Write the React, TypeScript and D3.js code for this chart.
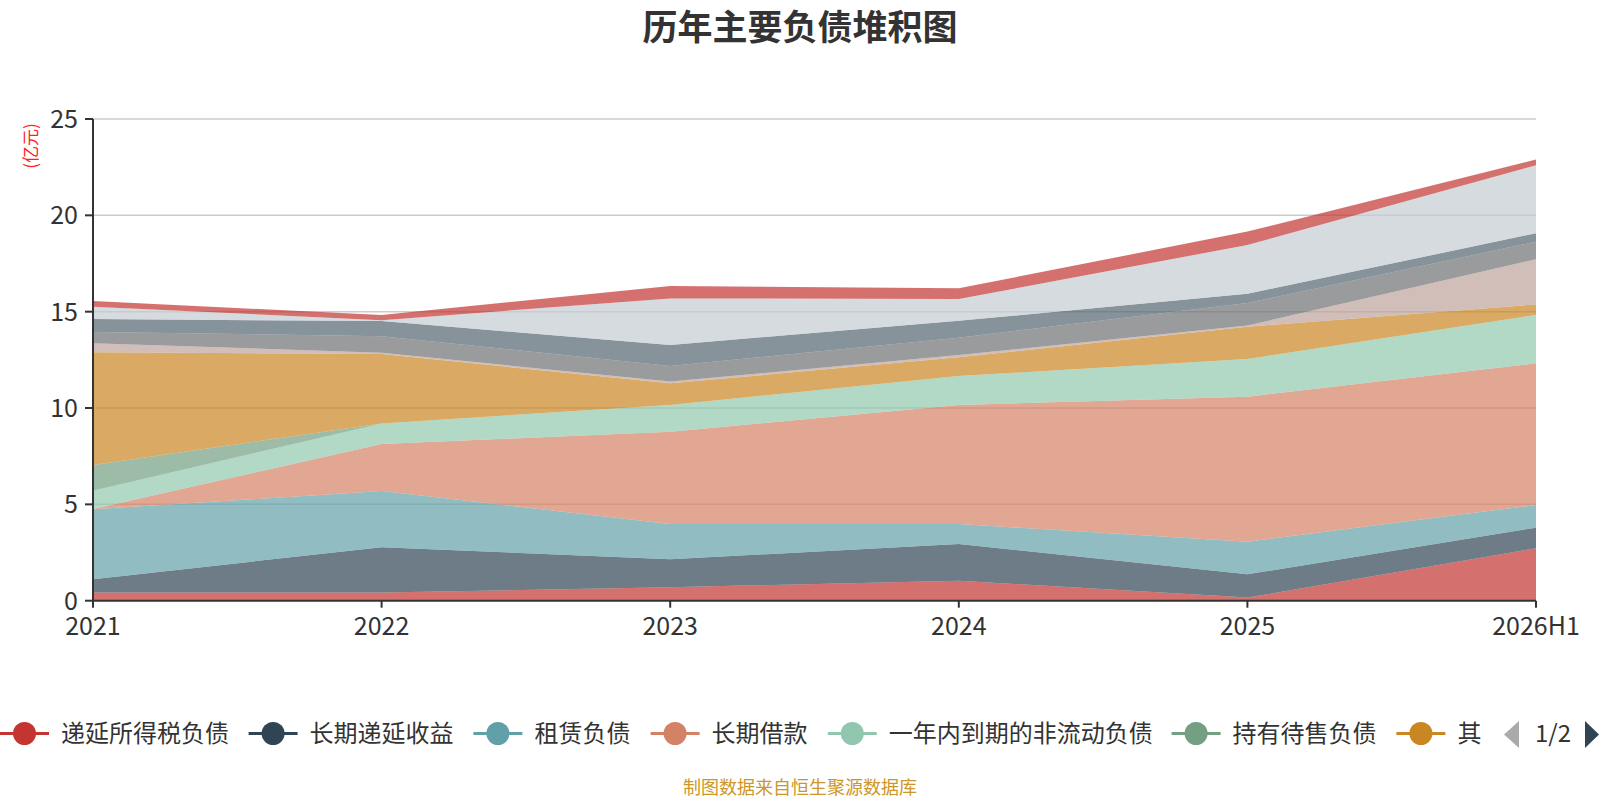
import * as d3 from 'd3'

const years = ['2021', '2022', '2023', '2024', '2025', '2026H1']

// stacking order, bottom first (values in 亿元)
const deferredTax = [0.42, 0.42, 0.7, 1.04, 0.16, 2.72]
const deferredIncome = [0.69, 2.36, 1.45, 1.9, 1.21, 1.07]
const leaseLiab = [3.63, 2.91, 1.83, 1.04, 1.69, 1.18]
const longLoan = [0.02, 2.44, 4.79, 6.18, 7.53, 7.35]
const dueWithinYear = [0.94, 1.07, 1.39, 1.5, 1.95, 2.51]
const heldForSale = [1.34, 0, 0, 0, 0, 0]
const otherCurrent = [5.86, 3.6, 1.12, 0.97, 1.68, 0.55]
const taxPayable = [0.46, 0.07, 0.09, 0.12, 0.06, 2.34]
const payroll = [0.59, 0.86, 0.81, 0.9, 1.17, 0.91]
const contractLiab = [0.67, 0.78, 1.09, 0.88, 0.48, 0.44]
const payables = [0.63, 0.05, 2.42, 1.13, 2.53, 3.53]
const shortLoan = [0.3, 0.27, 0.64, 0.55, 0.7, 0.3]

const seriesNames = [
  '递延所得税负债',
  '长期递延收益',
  '租赁负债',
  '长期借款',
  '一年内到期的非流动负债',
  '持有待售负债',
  '其他流动负债',
  '应交税费',
  '应付职工薪酬',
  '合同负债',
  '应付票据及应付账款',
  '短期借款',
]
const seriesValues = [
  deferredTax,
  deferredIncome,
  leaseLiab,
  longLoan,
  dueWithinYear,
  heldForSale,
  otherCurrent,
  taxPayable,
  payroll,
  contractLiab,
  payables,
  shortLoan,
]

const palette = [
  '#c23531', '#2f4554', '#61a0a8', '#d48265', '#91c7ae', '#749f83',
  '#ca8622', '#bda29a', '#6e7074', '#546570', '#c4ccd3',
]

const yTicks = [0, 5, 10, 15, 20, 25]
const legendPageSize = 7

const FONT = "'Noto Sans CJK SC', 'Noto Sans', sans-serif"

export default function App() {
  const width = 1600
  const height = 800
  const left = 93
  const right = 1536
  const top = 119
  const bottom = 600.7

  const x = d3.scalePoint<string>().domain(years).range([left, right])
  const y = d3.scaleLinear().domain([0, 25]).range([bottom, top])

  const rows = years.map((yr, i) => {
    const row: Record<string, number | string> = { year: yr }
    seriesNames.forEach((n, k) => {
      row[n] = seriesValues[k][i]
    })
    return row
  })

  const stacked = d3.stack<Record<string, number | string>>().keys(seriesNames)(rows)

  const area = d3
    .area<d3.SeriesPoint<Record<string, number | string>>>()
    .x((d) => x(d.data.year as string) ?? 0)
    .y0((d) => y(d[0]))
    .y1((d) => y(d[1]))
    .curve(d3.curveLinear)

  // legend layout (first page only, clipped before the pager)
  const charW = 23.8
  const legendY = 733.5
  let cursor = 0
  const legendItems = seriesNames.slice(0, legendPageSize).map((name, i) => {
    const item = { name, x: cursor, color: palette[i % palette.length] }
    cursor += 61 + name.length * charW + 21
    return item
  })

  return (
    <svg
      width={width}
      height={height}
      style={{ position: 'absolute', left: 0, top: 0, background: '#fff' }}
      fontFamily={FONT}
    >
      <defs>
        <clipPath id="legend-clip">
          <rect x={0} y={700} width={1481} height={70} />
        </clipPath>
      </defs>

      <text x={800} y={40} textAnchor="middle" fontSize={35} fontWeight="bold" fill="#333">
        历年主要负债堆积图
      </text>

      {/* grid lines */}
      {yTicks
        .filter((t) => t > 0)
        .map((t) => (
          <line key={t} x1={left} x2={right} y1={y(t)} y2={y(t)} stroke="#ccc" strokeWidth={1.5} />
        ))}

      {/* stacked areas */}
      {stacked.map((s, i) => (
        <path key={s.key} d={area(s) ?? ''} fill={palette[i % palette.length]} fillOpacity={0.7} />
      ))}

      {/* y axis */}
      <line x1={left} x2={left} y1={top} y2={bottom} stroke="#333" strokeWidth={2} />
      {yTicks.map((t) => (
        <g key={t}>
          <line x1={left - 8} x2={left} y1={y(t)} y2={y(t)} stroke="#333" strokeWidth={2} />
          <text x={left - 15} y={y(t)} dy="0.36em" textAnchor="end" fontSize={25} fill="#333">
            {t}
          </text>
        </g>
      ))}
      <text
        transform={`translate(37,146) rotate(-90)`}
        textAnchor="middle"
        fontSize={17}
        fill="#ff2222"
      >
        (亿元)
      </text>

      {/* x axis */}
      <line x1={left} x2={right} y1={bottom} y2={bottom} stroke="#333" strokeWidth={2} />
      {years.map((yr) => (
        <g key={yr}>
          <line x1={x(yr)} x2={x(yr)} y1={bottom} y2={bottom + 7} stroke="#333" strokeWidth={2} />
          <text x={x(yr)} y={bottom + 34} textAnchor="middle" fontSize={25} fill="#333">
            {yr}
          </text>
        </g>
      ))}

      {/* legend */}
      <g clipPath="url(#legend-clip)">
        {legendItems.map((it) => (
          <g key={it.name}>
            <line x1={it.x} x2={it.x + 49} y1={legendY} y2={legendY} stroke={it.color} strokeWidth={3} />
            <circle cx={it.x + 24.5} cy={legendY} r={11.5} fill={it.color} />
            <text x={it.x + 61} y={legendY} dy="0.36em" fontSize={24} fill="#333">
              {it.name}
            </text>
          </g>
        ))}
      </g>
      <polygon points="1519,721 1504,734.5 1519,748" fill="#aaa" />
      <text x={1553} y={legendY} dy="0.36em" textAnchor="middle" fontSize={24} fill="#333">
        1/{Math.ceil(seriesNames.length / legendPageSize)}
      </text>
      <polygon points="1585,721 1599,734.5 1585,748" fill="#2f4554" />

      <text x={800} y={794} textAnchor="middle" fontSize={18} fill="#cc9628">
        制图数据来自恒生聚源数据库
      </text>
    </svg>
  )
}
